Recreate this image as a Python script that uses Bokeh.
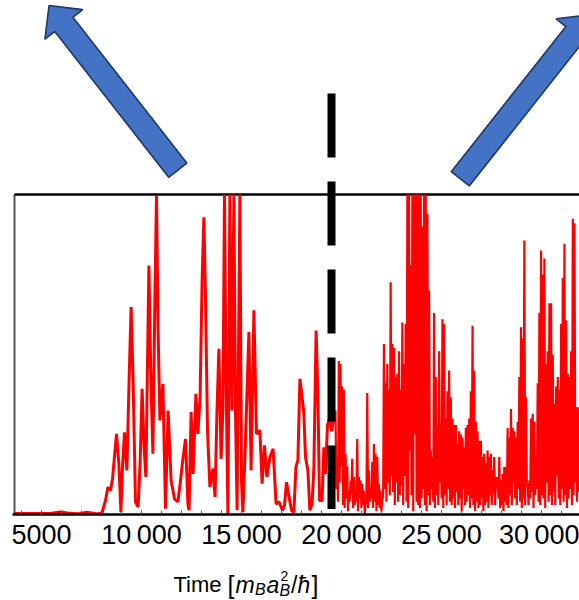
import numpy as np
from bokeh.plotting import figure
from bokeh.models import Range1d, FixedTicker, ColumnDataSource
from bokeh.core.properties import value
from bokeh.layouts import column
from bokeh.embed import file_html
from bokeh.resources import INLINE

# ---------------- data ----------------
# smooth early part of the signal: time and value (frame top = 1.0)
t_smooth = [3650, 4500, 5500, 5950, 6280, 6780, 7280, 7780, 8030, 8200,
            8320, 8450, 8550, 8750, 8870, 8970, 9050, 9150, 9270, 9380,
            9480, 9580, 9700, 9830, 9930, 10030, 10130, 10220, 10300, 10370,
            10470, 10570, 10670, 10750, 10830, 10920, 11070, 11200, 11330, 11480,
            11650, 11820, 11950, 12080, 12200, 12320, 12380, 12480, 12580, 12720,
            12820, 12930, 13030, 13120, 13200, 13300, 13420, 13570, 13680, 13770,
            13870, 13980, 14070, 14150, 14230, 14320, 14420, 14520, 14620, 14700,
            14780, 14920, 15000, 15070, 15200, 15370, 15480, 15620, 15750, 15920,
            16030, 16150, 16270, 16420, 16580, 16730, 16880, 17050, 17150, 17250,
            17380, 17500, 17620, 17720, 17820, 17920, 18030, 18120, 18200, 18320,
            18420, 18530, 18620, 18730, 18820, 18900, 19030, 19120, 19200, 19300,
            19400, 19500, 19620]
v_smooth = [0.003, 0.003, 0.004, 0.008, 0.005, 0.002, 0.007, 0.002, 0.006, 0.044,
            0.085, 0.075, 0.111, 0.252, 0.158, 0.007, 0.148, 0.257, 0.138, 0.419,
            0.648, 0.419, 0.039, 0.023, 0.158, 0.393, 0.210, 0.117, 0.470, 0.778,
            0.419, 0.190, 0.679, 0.997, 0.575, 0.294, 0.408, 0.018, 0.325, 0.106,
            0.049, 0.039, 0.106, 0.179, 0.236, 0.033, 0.013, 0.320, 0.127, 0.377,
            0.252, 0.367, 0.731, 0.929, 0.679, 0.263, 0.085, 0.143, 0.054, 0.315,
            0.518, 0.174, 0.325, 1.000, 0.419, 0.002, 1.000, 0.325, 1.000, 0.315,
            0.013, 1.000, 0.106, 0.007, 0.231, 0.570, 0.138, 0.638, 0.252, 0.263,
            0.096, 0.216, 0.117, 0.179, 0.205, 0.033, 0.039, 0.013, 0.028, 0.101,
            0.054, 0.013, 0.007, 0.148, 0.169, 0.424, 0.367, 0.315, 0.179, 0.138,
            0.013, 0.033, 0.148, 0.575, 0.377, 0.044, 0.044, 0.210, 0.127, 0.280,
            0.300, 0.260, 0.300]

# fast oscillating late part: successive maxima and minima
noisy_start, noisy_end = 19700, 31900
noisy_peaks = [
    0.325, 0.18, 0.48, 0.47, 0.40, 0.39, 0.19, 0.15, 0.075, 0.106,
    0.174, 0.117, 0.075, 0.236, 0.117, 0.106, 0.096, 0.075, 0.033, 0.38,
    0.138, 0.075, 0.164, 0.22, 0.19, 0.18, 0.096, 0.075, 0.054, 0.533,
    0.41, 0.47, 0.39, 0.726, 0.533, 0.52, 0.43, 0.44, 0.51, 0.39,
    0.60, 0.47, 0.596, 1.0, 1.0, 0.78, 1.0, 1.0, 1.0,
    1.0, 1.0, 1.0, 0.9, 1.0, 1.0, 0.94, 0.70, 0.20, 0.18,
    0.63, 0.43, 0.28, 0.51, 0.28, 0.61, 0.595, 0.30, 0.385, 0.45,
    0.366, 0.30, 0.28, 0.28, 0.22, 0.26, 0.25, 0.24, 0.21, 0.27,
    0.28, 0.30, 0.385, 0.59, 0.45, 0.29, 0.26, 0.23, 0.23, 0.18,
    0.19, 0.16, 0.20, 0.18, 0.19, 0.14, 0.18, 0.117,
    0.117, 0.18, 0.106, 0.127, 0.148, 0.148, 0.27, 0.24, 0.33, 0.27,
    0.26, 0.24, 0.29, 0.43, 0.585, 0.55, 0.856, 0.366, 0.096, 0.106,
    0.30, 0.315, 0.29, 0.18, 0.41, 0.63, 0.825, 0.75, 0.80, 0.47,
    0.51, 0.66, 0.66, 0.50, 0.345, 0.40, 0.43, 0.39, 0.595, 0.74,
    0.846, 0.606, 0.44, 0.43, 0.51, 0.924, 0.91, 0.335, 0.335, 0.325]
noisy_troughs = [
    0.08, 0.04, 0.10, 0.15, 0.03, 0.02, 0.05, 0.01, 0.04, 0.06,
    0.02, 0.03, 0.04, 0.01, 0.05, 0.02, 0.03, 0.00, 0.04, 0.02,
    0.04, 0.05, 0.02, 0.04, 0.01, 0.03, 0.02, 0.01, 0.05, 0.08,
    0.04, 0.10, 0.06, 0.12, 0.07, 0.03, 0.10, 0.04, 0.06, 0.09,
    0.03, 0.12, 0.04, 0.02, 0.20, 0.06, 0.01, 0.25, 0.04, 0.03,
    0.02, 0.05, 0.08, 0.03, 0.01, 0.06, 0.03, 0.08, 0.04, 0.02,
    0.06, 0.03, 0.10, 0.05, 0.02, 0.06, 0.03, 0.08, 0.04, 0.03,
    0.05, 0.02, 0.07, 0.03, 0.05, 0.01, 0.08, 0.03, 0.04, 0.06,
    0.02, 0.05, 0.03, 0.01, 0.04, 0.02, 0.03, 0.05, 0.01, 0.03,
    0.04, 0.02, 0.06, 0.03, 0.07, 0.03, 0.08, 0.05, 0.02, 0.03,
    0.01, 0.04, 0.03, 0.02, 0.06, 0.03, 0.10, 0.05, 0.03, 0.08,
    0.04, 0.02, 0.05, 0.03, 0.09, 0.03, 0.05, 0.07, 0.02, 0.06,
    0.08, 0.04, 0.03, 0.06, 0.05, 0.02, 0.10, 0.04, 0.06, 0.03,
    0.07, 0.03, 0.12, 0.05, 0.03, 0.08, 0.04, 0.06, 0.02, 0.05,
    0.08, 0.03, 0.06, 0.10, 0.04, 0.07]

split_time = 19500          # dashed divider
tick_values = [5000, 10000, 15000, 20000, 25000, 30000]
tick_labels = ["5000", "10\u2009000", "15\u2009000", "20\u2009000", "25\u2009000", "30\u2009000"]
minor_tick_values = list(range(4000, 32000, 1000))

# axis title pieces: text, style
title_texts = ["Time", "[", "m", "B", "a", "2", "B", "/", "\u0127", "]"]
title_styles = ["normal", "normal", "italic", "italic", "italic", "normal",
                "italic", "normal", "italic", "normal"]

# ---------------- layout ----------------
W = 579
H_MAIN, H_TITLE = 552, 48
LEFT = 12
FH = 514
T0, T1 = 3550, 31900
FW = W - LEFT
V_TOP = FH / 320.0          # value 1.0 sits 320 px above the axis

def tx(px):
    return T0 + (px - LEFT) * (T1 - T0) / FW

def vy(py):
    return V_TOP * (FH - py) / FH

p = figure(width=W, height=H_MAIN, x_range=Range1d(T0, T1), y_range=Range1d(0, V_TOP),
           output_backend="svg", toolbar_location=None, y_axis_location=None,
           min_border_left=LEFT, min_border_right=0, min_border_top=0,
           min_border_bottom=H_MAIN - FH)
p.grid.visible = False
p.outline_line_color = None
p.background_fill_color = "white"
p.border_fill_color = "white"

ax = p.xaxis[0]
ax.ticker = FixedTicker(ticks=tick_values, minor_ticks=minor_tick_values)
ax.major_label_overrides = {k: s for k, s in zip(tick_values, tick_labels)}
ax.axis_line_color = "black"
ax.axis_line_width = 2.5
ax.major_tick_in = 4
ax.major_tick_out = 0
ax.minor_tick_in = 4
ax.minor_tick_out = 0
ax.major_tick_line_color = "#555555"
ax.minor_tick_line_color = "#555555"
ax.major_label_standoff = 5
ax.major_label_text_font = "Liberation Sans"
ax.major_label_text_font_size = "27px"
ax.major_label_text_color = "black"

# frame (left and top)
p.line([tx(14), tx(14)], [0, 1.0], line_color="#555555", line_width=2)
p.line([tx(14), T1], [1.0, 1.0], line_color="black", line_width=2.6)

# signal
p.line(t_smooth, v_smooth, line_color="#ff0000", line_width=3)
n = 2 * len(noisy_peaks) - 1
t_noisy = np.linspace(noisy_start, noisy_end, n)
v_noisy = np.empty(n)
v_noisy[0::2] = noisy_peaks
v_noisy[1::2] = noisy_troughs
p.line(t_noisy, v_noisy, line_color="#ff0000", line_width=2.2)

# dashed divider
p.line([split_time, split_time], [vy(93), vy(508.5)], line_color="black",
       line_width=8, line_dash="64 24", line_cap="butt")

# arrows
def arrow(cx, cy, dx, dy, shaft=185.0, hw=11.5, head=24.0, hh=24.0):
    nrm = np.hypot(dx, dy)
    dx, dy = dx / nrm, dy / nrm
    nx, ny = -dy, dx
    bx, by = cx + dx * shaft, cy + dy * shaft
    pts = [(cx + nx * hw, cy + ny * hw), (bx + nx * hw, by + ny * hw),
           (bx + nx * hh, by + ny * hh), (bx + dx * head, by + dy * head),
           (bx - nx * hh, by - ny * hh), (bx - nx * hw, by - ny * hw),
           (cx - nx * hw, cy - ny * hw)]
    return [tx(a) for a, b in pts], [vy(b) for a, b in pts]

xs1, ys1 = arrow(177.25, 169.7, -0.616, -0.788)
xs2, ys2 = arrow(459.75, 178.35, 0.62, -0.785)
p.patches([xs1, xs2], [ys1, ys2], fill_color="#4472C4", line_color="#1F3864",
          line_width=1.6)

# ---------------- axis title strip ----------------
pt = figure(width=W, height=H_TITLE, x_range=p.x_range, y_range=Range1d(0, H_TITLE),
            output_backend="svg", toolbar_location=None,
            x_axis_location=None, y_axis_location=None,
            min_border_left=LEFT, min_border_right=0, min_border_top=0,
            min_border_bottom=0)
pt.grid.visible = False
pt.outline_line_color = None
pt.background_fill_color = "white"
pt.border_fill_color = "white"

def ty(py):
    return H_MAIN + H_TITLE - py

# placement of the title pieces (pixel positions in the page)
piece_px = [173.0, 227.0, 235.0, 254.5, 266.0, 280.0, 279.0, 290.5, 297.0, 311.0]
piece_py = [584, 584, 584, 589, 584, 575.5, 589.5, 584, 584, 584]
piece_size = ["22px", "25px", "23px", "16px", "23px", "14px", "16px", "23px", "23px", "25px"]
src = ColumnDataSource(dict(x=[tx(v) for v in piece_px], y=[ty(v) for v in piece_py],
                            text=title_texts, style=title_styles, size=piece_size))
pt.text(x="x", y="y", text="text", source=src, text_font=value("Liberation Sans"),
        text_font_style="style", text_font_size="size", text_color="black",
        text_align="left", text_baseline="alphabetic")

layout = column(p, pt, spacing=0)
open("out.html", "w").write(file_html(layout, INLINE))
